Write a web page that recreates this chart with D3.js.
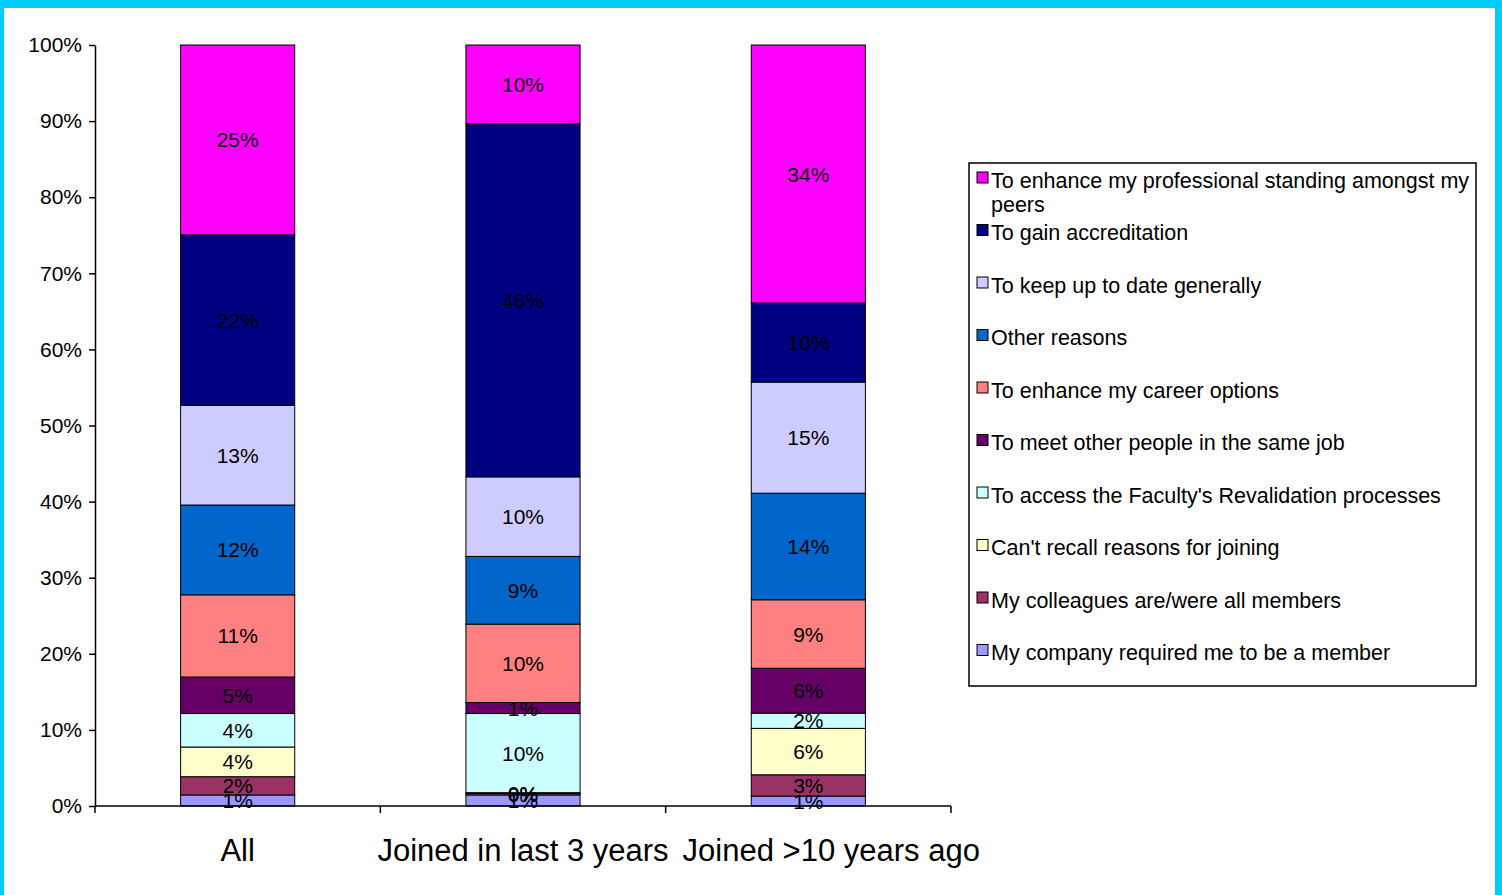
<!DOCTYPE html>
<html>
<head>
<meta charset="utf-8">
<script src="https://cdn.jsdelivr.net/npm/d3@7"></script>
<style>
body { margin: 0; background: #00ccff; }
svg { display: block; }
</style>
</head>
<body>
<script>
// categories along the x axis
var categories = ["All", "Joined in last 3 years", "Joined >10 years ago"];

// reasons, bottom of the stack first
var reasons = [
    "My company required me to be a member",
    "My colleagues are/were all members",
    "Can't recall reasons for joining",
    "To access the Faculty's Revalidation processes",
    "To meet other people in the same job",
    "To enhance my career options",
    "Other reasons",
    "To keep up to date generally",
    "To gain accreditation",
    "To enhance my professional standing amongst my peers"
];
var colors = ["#9999ff", "#993366", "#ffffcc", "#ccffff", "#660066",
              "#ff8080", "#0066cc", "#ccccff", "#000080", "#ff00ff"];

// percent per category (All, last 3 yrs, >10 yrs)
var company     = [1.45, 1.45, 1.3];
var colleagues  = [2.4, 0.2, 2.8];
var cantRecall  = [3.9, 0.1, 6.1];
var revalidate  = [4.4, 10.4, 2.0];
var meetPeople  = [4.8, 1.45, 5.9];
var career      = [10.8, 10.3, 9.0];
var other       = [11.8, 8.9, 14.0];
var keepUp      = [13.1, 10.45, 14.6];
var accredit    = [22.4, 46.4, 10.4];
var standing    = [24.95, 10.35, 33.9];

var yTicks = [0, 10, 20, 30, 40, 50, 60, 70, 80, 90, 100];

var series = [company, colleagues, cantRecall, revalidate, meetPeople,
              career, other, keepUp, accredit, standing];

// build table rows for d3.stack
var table = categories.map(function(c, i) {
    var row = {cat: c};
    reasons.forEach(function(r, k) { row[r] = series[k][i]; });
    return row;
});

var svgWidth = 1502, svgHeight = 895;
var font = "'Liberation Sans', Arial, sans-serif";

var svg = d3.select("body").append("svg")
    .attr("width", svgWidth)
    .attr("height", svgHeight);

// cyan frame with white plot area
svg.append("rect")
    .attr("x", 4).attr("y", 8)
    .attr("width", 1491).attr("height", 887)
    .attr("fill", "#fff");

var x = d3.scaleBand()
    .domain(categories)
    .range([95, 951])
    .paddingInner(0.6)
    .paddingOuter(0.3);
var y = d3.scaleLinear()
    .domain([0, 100])
    .range([806, 45]);

var stack = d3.stack().keys(reasons).offset(d3.stackOffsetExpand);
var layers = stack(table);

var g = svg.append("g");

var layer = g.selectAll(".layer")
    .data(layers)
    .enter().append("g")
    .attr("fill", (d, i) => colors[i]);

layer.selectAll("rect")
    .data(d => d)
    .enter().append("rect")
    .attr("x", d => x(d.data.cat))
    .attr("width", x.bandwidth())
    .attr("y", d => y(d[1] * 100))
    .attr("height", d => y(d[0] * 100) - y(d[1] * 100))
    .attr("stroke", "#000")
    .attr("stroke-width", 1);

// value labels in the middle of each segment
layers.forEach(function(L, k) {
    g.selectAll(null)
        .data(L)
        .enter().append("text")
        .attr("x", d => x(d.data.cat) + x.bandwidth() / 2)
        .attr("y", d => y((d[0] + d[1]) * 50))
        .attr("dy", "0.36em")
        .attr("text-anchor", "middle")
        .attr("font-family", font)
        .attr("font-size", 21)
        .attr("fill", "#000")
        .text(d => Math.round(series[k][categories.indexOf(d.data.cat)]) + "%");
});

// y axis
var yAxis = g.append("g")
    .attr("transform", "translate(95,0)")
    .call(d3.axisLeft(y).tickValues(yTicks).tickSize(6).tickSizeOuter(0)
        .tickFormat(d => d + "%"));
yAxis.select(".domain").attr("stroke", "#000").attr("stroke-width", 1.5);
yAxis.selectAll("line").attr("stroke", "#000").attr("stroke-width", 1.5);
yAxis.selectAll("text")
    .attr("x", -13)
    .attr("font-family", font)
    .attr("font-size", 21)
    .attr("fill", "#000");

// x axis: line with ticks between categories
var bounds = [95].concat(categories.map(c => x(c) + x.bandwidth() / 2 + x.step() / 2));
g.append("line")
    .attr("x1", 95).attr("x2", 951)
    .attr("y1", 806).attr("y2", 806)
    .attr("stroke", "#000").attr("stroke-width", 1.5);
g.selectAll(".xtick")
    .data(bounds)
    .enter().append("line")
    .attr("x1", d => d).attr("x2", d => d)
    .attr("y1", 806).attr("y2", 813)
    .attr("stroke", "#000").attr("stroke-width", 1.5);
var xLabels = g.selectAll(".xlab")
    .data(categories)
    .enter().append("text")
    .attr("x", d => x(d) + x.bandwidth() / 2)
    .attr("y", 861)
    .attr("text-anchor", "middle")
    .attr("font-family", font)
    .attr("font-size", 31)
    .attr("fill", "#000")
    .text(d => d);

// push labels right so they don't run into each other
var prevRight = -Infinity;
xLabels.each(function() {
    var t = d3.select(this);
    var w = this.getComputedTextLength();
    var cx = +t.attr("x");
    if (cx - w / 2 < prevRight + 14) {
        cx = prevRight + 14 + w / 2;
        t.attr("x", cx);
    }
    prevRight = cx + w / 2;
});

// legend, top of the stack first
var legend = svg.append("g");
legend.append("rect")
    .attr("x", 969).attr("y", 163)
    .attr("width", 507).attr("height", 523)
    .attr("fill", "#fff")
    .attr("stroke", "#000")
    .attr("stroke-width", 1.5);

var order = d3.range(reasons.length).reverse();
order.forEach(function(k, i) {
    var cy = 180 + i * 52.5;
    legend.append("rect")
        .attr("x", 977).attr("y", cy - 8)
        .attr("width", 11).attr("height", 11)
        .attr("fill", colors[k])
        .attr("stroke", "#000");
    var t = legend.append("text")
        .attr("x", 991).attr("y", cy)
        .attr("dy", "0.36em")
        .attr("font-family", font)
        .attr("font-size", 21.5)
        .attr("fill", "#000");
    // wrap long names
    var words = reasons[k].split(" "), line = [];
    var span = t.append("tspan").attr("x", 991);
    words.forEach(function(w) {
        line.push(w);
        span.text(line.join(" "));
        if (span.node().getComputedTextLength() > 482 && line.length > 1) {
            line.pop();
            span.text(line.join(" "));
            line = [w];
            span = t.append("tspan").attr("x", 991).attr("dy", "1.15em").text(w);
        }
    });
});
</script>
</body>
</html>
